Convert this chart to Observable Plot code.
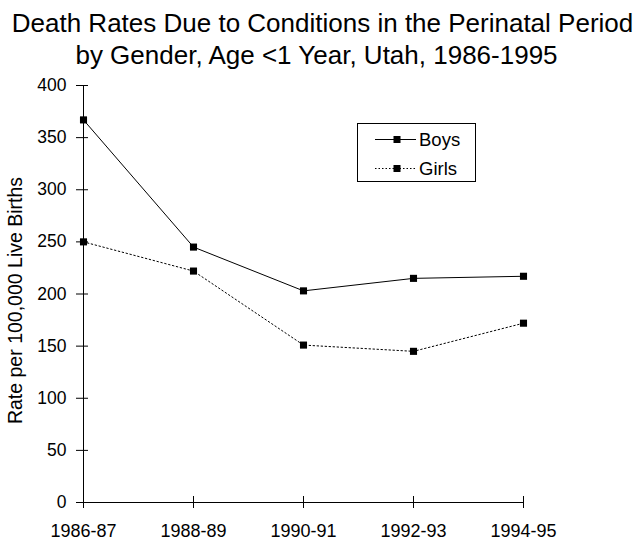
<!DOCTYPE html>
<html>
<head>
<meta charset="utf-8">
<script src="https://cdn.jsdelivr.net/npm/d3@7"></script>
<script src="https://cdn.jsdelivr.net/npm/@observablehq/plot@0.6"></script>
<style>
  html, body { margin: 0; padding: 0; background: #fff; }
  #wrap { position: relative; width: 634px; height: 540px; font-family: "Liberation Sans", Arial, sans-serif; overflow: hidden; }
  #legend { position: absolute; left: 0; top: 0; }
</style>
</head>
<body>
<div id="wrap"></div>
<script>
// ---- data ----
const periods = ["1986-87", "1988-89", "1990-91", "1992-93", "1994-95"];
const boys = [367, 245, 203, 215, 217];
const girls = [250, 222, 151, 145, 172];
const yTicks = [0, 50, 100, 150, 200, 250, 300, 350, 400];
const seriesNames = ["Boys", "Girls"];
const titleLines = [
  "Death Rates Due to Conditions in the Perinatal Period",
  "by Gender, Age <1 Year, Utah, 1986-1995"
];
const yLabel = "Rate per 100,000 Live Births";

const boysData = periods.map((p, i) => ({period: p, value: boys[i]}));
const girlsData = periods.map((p, i) => ({period: p, value: girls[i]}));

const chart = Plot.plot({
  width: 634,
  height: 540,
  marginLeft: 82,
  marginRight: 110,
  marginTop: 85,
  marginBottom: 38,
  style: {fontFamily: '"Liberation Sans", Arial, sans-serif', fontSize: "17px", background: "#fff", color: "#000"},
  x: {type: "point", domain: periods, padding: 0},
  y: {domain: [0, 400]},
  marks: [
    // axis lines
    Plot.ruleX([periods[0]], {x: d => d, y1: 0, y2: 400, stroke: "#000", strokeWidth: 1}),
    Plot.ruleY([0], {y: d => d, x1: () => periods[0], x2: () => periods[periods.length - 1], stroke: "#000", strokeWidth: 1}),
    // y axis (ticks crossing the axis line)
    Plot.axisY({ticks: yTicks, tickSize: 6, tickPadding: 10, fontSize: 17.5, label: null, stroke: "#000"}),
    Plot.axisY({ticks: yTicks, tickSize: 6, dx: 6, tickFormat: () => "", label: null, stroke: "#000"}),
    // x axis (ticks crossing the axis line)
    Plot.axisX({tickSize: 6, tickPadding: 15.7, fontSize: 18, label: null, stroke: "#000"}),
    Plot.axisX({tickSize: 6, dy: -6, tickFormat: () => "", label: null, stroke: "#000"}),
    // series
    Plot.line(boysData, {x: "period", y: "value", stroke: "#000", strokeWidth: 1}),
    Plot.line(girlsData, {x: "period", y: "value", stroke: "#000", strokeWidth: 1, strokeDasharray: "1.5,2.5"}),
    Plot.dot(boysData, {x: "period", y: "value", symbol: "square", r: 4, fill: "#000", stroke: null}),
    Plot.dot(girlsData, {x: "period", y: "value", symbol: "square", r: 4, fill: "#000", stroke: null}),
    // title
    Plot.text([titleLines[0]], {text: d => d, frameAnchor: "top", lineAnchor: "bottom", dx: 19, dy: -53.3, fontSize: 26, fill: "#000"}),
    Plot.text([titleLines[1]], {text: d => d, frameAnchor: "top", lineAnchor: "bottom", dx: 13, dy: -21.7, fontSize: 26, fill: "#000"}),
    // y axis title
    Plot.text([yLabel], {text: d => d, frameAnchor: "left", rotate: -90, textAnchor: "middle", lineAnchor: "middle", dx: -67, dy: 6.5, fontSize: 19.5, fill: "#000"})
  ]
});

const wrap = document.getElementById("wrap");
wrap.appendChild(chart);

// ---- legend overlay ----
const leg = d3.select(wrap).append("svg")
  .attr("id", "legend")
  .attr("width", 634).attr("height", 540)
  .style("pointer-events", "none");
leg.append("rect")
  .attr("x", 357.5).attr("y", 123.5).attr("width", 118).attr("height", 58)
  .attr("fill", "#fff").attr("stroke", "#000").attr("stroke-width", 1);
const dashes = [null, "1.5,2"];
seriesNames.forEach((name, i) => {
  const cy = 139 + i * 29;
  leg.append("line")
    .attr("x1", 375).attr("x2", 416).attr("y1", cy + 0.5).attr("y2", cy + 0.5)
    .attr("stroke", "#000").attr("stroke-width", 1)
    .attr("stroke-dasharray", dashes[i]);
  leg.append("rect")
    .attr("x", 397 - 3.5).attr("y", cy + 0.5 - 3.5).attr("width", 7).attr("height", 7)
    .attr("fill", "#000");
  leg.append("text")
    .attr("x", 419).attr("y", cy + 6.5)
    .attr("font-family", '"Liberation Sans", Arial, sans-serif')
    .attr("font-size", 18.5)
    .attr("fill", "#000")
    .text(name);
});
</script>
</body>
</html>
